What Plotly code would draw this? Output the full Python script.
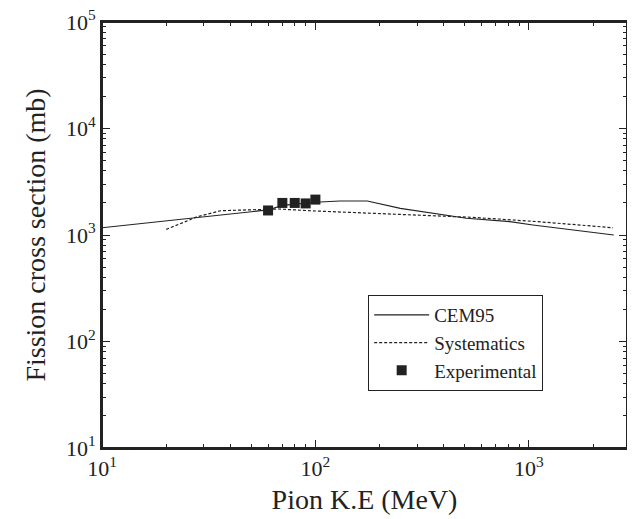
import plotly.graph_objects as go

# CEM95 calculation (solid line)
cem_x = [10, 60, 70, 100, 130, 175, 250, 510, 815, 1045, 2500]
cem_y = [1170, 1718, 1900, 2030, 2085, 2085, 1780, 1436, 1333, 1242, 1000]

# Systematics (dashed line)
sys_x = [20, 28, 36, 56, 67, 100, 180, 375, 540, 1110, 2480]
sys_y = [1130, 1486, 1690, 1754, 1754, 1680, 1600, 1518, 1466, 1333, 1170]

# Experimental data
exp_x = [60, 70, 80, 90, 100]
exp_y = [1700, 2000, 2000, 1980, 2150]

x_ticks = [10, 100, 1000]
x_ticktext = ["10<sup>1</sup>", "10<sup>2</sup>", "10<sup>3</sup>"]
y_ticks = [10, 100, 1000, 10000, 100000]
y_ticktext = ["10<sup>1</sup>", "10<sup>2</sup>", "10<sup>3</sup>", "10<sup>4</sup>", "10<sup>5</sup>"]
x_minor = [m * d for d in (10, 100, 1000) for m in range(2, 10)]
y_minor = [m * d for d in (10, 100, 1000, 10000) for m in range(2, 10)]

ink = "#222222"
font = "Liberation Serif"

fig = go.Figure()
fig.add_trace(go.Scatter(x=cem_x, y=cem_y, mode="lines", name="CEM95",
                         line=dict(color=ink, width=1.2)))
fig.add_trace(go.Scatter(x=sys_x, y=sys_y, mode="lines", name="Systematics",
                         line=dict(color=ink, width=1.2, dash="3px,2px")))
fig.add_trace(go.Scatter(x=exp_x, y=exp_y, mode="markers", name="Experimental",
                         marker=dict(symbol="square", size=10, color=ink)))

axis_common = dict(
    type="log", showline=True, linecolor=ink, linewidth=2, mirror="ticks",
    ticks="inside", ticklen=8, tickwidth=1.2, tickcolor=ink,
    showgrid=False, zeroline=False, automargin=False,
    ticklabeloverflow="allow",
    tickfont=dict(family=font, size=22, color=ink),
)

fig.update_xaxes(range=[1, 3.46], tickvals=x_ticks, ticktext=x_ticktext,
                 minor=dict(tickvals=x_minor, ticks="inside", ticklen=4, tickwidth=1,
                            tickcolor=ink, showgrid=False),
                 title=dict(text="Pion K.E (MeV)", font=dict(family=font, size=28, color=ink), standoff=9),
                 **axis_common)
fig.update_yaxes(range=[1, 5], tickvals=y_ticks, ticktext=y_ticktext,
                 minor=dict(tickvals=y_minor, ticks="inside", ticklen=4, tickwidth=1,
                            tickcolor=ink, showgrid=False),
                 title=dict(text="Fission cross section (mb)", font=dict(family=font, size=28, color=ink), standoff=12),
                 **axis_common)

# plot frame
fig.add_shape(type="rect", xref="paper", yref="paper", x0=0, y0=0, x1=1, y1=1,
              line=dict(color=ink, width=2), layer="above")

fig.update_layout(
    width=627, height=511,
    margin=dict(l=94, r=8, t=14, b=71),
    plot_bgcolor="white", paper_bgcolor="white",
    font=dict(family=font, color=ink),
    legend=dict(x=0.507, y=0.359, xanchor="left", yanchor="top",
                bordercolor=ink, borderwidth=1, bgcolor="white",
                font=dict(family=font, size=19, color=ink),
                itemwidth=55, tracegroupgap=0),
    showlegend=True,
)

fig.write_html("out.html")
